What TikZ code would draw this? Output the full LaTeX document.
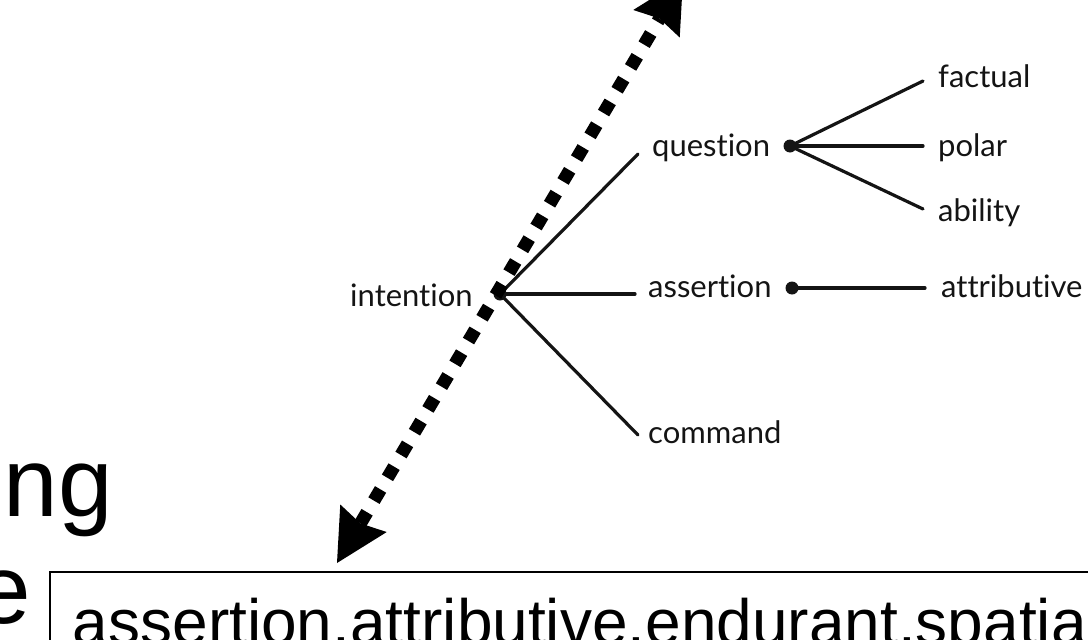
\documentclass[tikz,border=0pt]{standalone}
\usepackage{fontspec}
\setmainfont{Liberation Sans}
\newfontfamily\treefont[Ligatures=NoCommon]{Lato}
\usetikzlibrary{arrows.meta}
\definecolor{ink}{HTML}{141414}
\begin{document}
\begin{tikzpicture}[x=1pt,y=-1pt,
  leaf/.style={font=\treefont\fontsize{31}{36}\selectfont, text=ink, inner sep=0pt, anchor=base west},
  branch/.style={draw=ink, line width=3.2pt, line cap=round},
  hub/.style={circle, fill=ink, inner sep=0pt, minimum size=13pt},
  bigword/.style={font=\fontsize{98}{110}\selectfont, inner sep=0pt, anchor=base east},
  bighead/.tip={Stealth[length=52pt 0, width=54pt 0, inset=6pt 0, line width=0pt]},
  linkarrow/.style={line width=13pt, dash pattern=on 13pt off 13.5pt, bighead-bighead}
]
\useasboundingbox (0,0) rectangle (1088,640);
\clip (0,0) rectangle (1088,640);

% tree of intentions
\node[leaf] (intention)   at (350,306) {intention};
\node[hub]  (ihub)        at (500,294) {};
\node[leaf] (question)    at (652,156) {question};
\node[hub]  (qhub)        at (790,146) {};
\node[leaf] (assertion)   at (648,297) {assertion};
\node[hub]  (ahub)        at (792,288) {};
\node[leaf] (command)     at (648,443) {command};
\node[leaf] (factual)     at (938,87)  {factual};
\node[leaf] (polar)       at (938,156) {polar};
\node[leaf] (ability)     at (938,221) {ability};
\node[leaf] (attributive) at (941,297) {attributive};

\coordinate (qin) at (638,154);
\coordinate (ain) at (635,294);
\coordinate (cin) at (638,435);
\coordinate (fin) at (923,81);
\coordinate (pin) at (923,146);
\coordinate (bin) at (923,209);
\coordinate (tin) at (925,288);

\draw[branch] (ihub.center) -- (qin);
\draw[branch] (ihub.center) -- (ain);
\draw[branch] (ihub.center) -- (cin);
\draw[branch] (qhub.center) -- (fin);
\draw[branch] (qhub.center) -- (pin);
\draw[branch] (qhub.center) -- (bin);
\draw[branch] (ahub.center) -- (tin);

% large words on the left
\node[bigword] (ng) at (113,516) {ng};
\node[bigword] (e)  at (31,623)  {e};

% class path box
\node[draw, line width=2pt, anchor=north west, minimum width=1100pt,
      minimum height=120pt, inner sep=0pt] (pathbox) at (49,571) {};
\node[font=\fontsize{64}{70}\selectfont, inner sep=0pt, anchor=base west]
      (pathtext) at (72.7,644) {assertion.attributive.endurant.spatia};

% dotted double arrow linking the box and the tree
\coordinate (low)  at (337,563);
\coordinate (high) at (683,-21);
\draw[linkarrow] (low) -- (high);
\end{tikzpicture}
\end{document}
